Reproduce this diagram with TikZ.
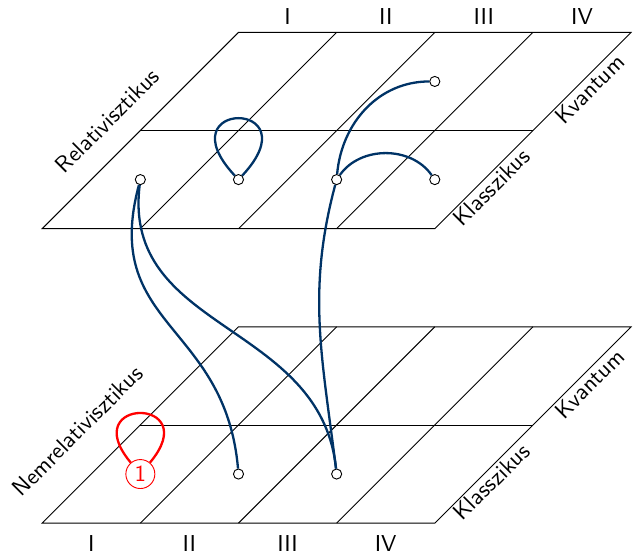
\documentclass[tikz,border=0pt]{standalone}
\usepackage{tikz}
\renewcommand{\familydefault}{\sfdefault}
\definecolor{linkblue}{RGB}{0,51,102}

\begin{document}
\begin{tikzpicture}[x=1.5cm,y=1.5cm]
	\tikzset{state/.style={circle, draw=black, fill=white, thin, inner sep=0pt, minimum size=4.4pt},
	         marked/.style={circle, draw=red, text=red, fill=white, thin, inner sep=0pt, minimum size=12.6pt},
	         link/.style={draw=linkblue, line width=1pt},
	         side/.style={below, sloped, inner sep=1pt}}
	\useasboundingbox (-0.43,-0.31) rectangle (6.04,5.33);

	%---PLANES---
	\foreach \h in {0,3} {
		\draw[thin] (0,\h) -- (4,\h) -- (6,\h+2) -- (2,\h+2) -- cycle;
		\draw[thin] (1,\h+1) -- (5,\h+1);
		\foreach \i in {1,2,3}
			\draw[thin] (\i,\h) -- (\i+2,\h+2);
		\path (4,\h) -- (6,\h+2)
			node[side, pos=0.25] (klassz\h) {Klasszikus}
			node[side, pos=0.75] (kvant\h) {Kvantum};
	}

	%---LABELS---
	\foreach \x/\t in {0/I,1/II,2/III,3/IV} {
		\node[above] (felso\x) at (\x+2.5,5) {\t};
		\node[below=2pt] (also\x) at (\x+0.5,0) {\t};
	}
	\node[rotate=45] (rel) at (0.665,4.10) {Relativisztikus};
	\node[rotate=45] (nemrel) at (0.36,0.94) {Nemrelativisztikus};

	%---NODES---
	\node[state] (rk1) at (1,3.5) {};
	\node[state] (rk2) at (2,3.5) {};
	\node[state] (rk3) at (3,3.5) {};
	\node[state] (rk4) at (4,3.5) {};
	\node[state] (rq3) at (4,4.5) {};
	\node[marked] (nk1) at (1,0.5) {1};
	\node[state] (nk2) at (2,0.5) {};
	\node[state] (nk3) at (3,0.5) {};

	%---EDGES---
	\draw[link] (rk2) to[out=133,in=47,min distance=1.6cm] (rk2);
	\draw[link] (rk3) to[out=85,in=180] (rq3);
	\draw[link] (rk3) to[out=55,in=125] (rk4);
	\draw[link] (rk1) to[out=-105,in=95,looseness=1.25] (nk2);
	\draw[link] (rk1) to[out=-97,in=96,looseness=1.1] (nk3);
	\draw[link] (rk3) to[out=-105,in=97] (nk3);
	\draw[link, draw=red] (nk1) to[out=130,in=50,min distance=1.32cm] (nk1);

\end{tikzpicture}
\end{document}
